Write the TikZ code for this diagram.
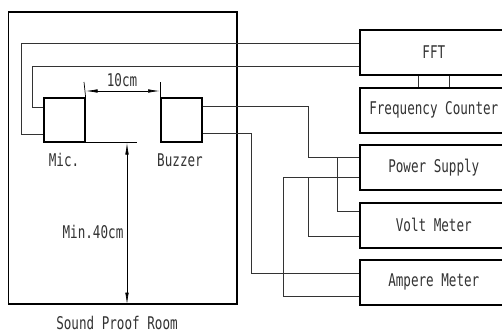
\documentclass[tikz,border=0pt]{standalone}
\usepackage{fontspec}
\newfontfamily\isofont{DejaVu Sans Mono}
\usetikzlibrary{arrows.meta}
\tikzset{
  box/.style={draw=black, line width=1.6pt, rectangle, inner sep=0pt},
  dev/.style={box, minimum width=148pt, minimum height=45pt, anchor=north west},
  wire/.style={draw=black!80, line width=0.7pt},
  dim/.style={draw=black, line width=0.7pt},
  darr/.style={dim, {Latex[length=12pt,width=3.5pt]}-{Latex[length=12pt,width=3.5pt]}},
  lbl/.style={text=black!80, font=\isofont\fontsize{17.5}{17.5}\selectfont, inner sep=0pt},
}
\newcommand{\nar}[1]{\scalebox{0.72}[1]{#1}}
\begin{document}
\begin{tikzpicture}[x=1pt,y=-1pt]
\useasboundingbox (0,0) rectangle (502,334);
\clip (0,0) rectangle (502,334);
\fill[white] (0,0) rectangle (502,334);
% room
\node[box, anchor=north west, minimum width=228.5pt, minimum height=292pt] (room) at (7.5,11) {};
\node[lbl, anchor=base] (roomlbl) at (117,329) {\nar{Sound Proof Room}};
% mic and buzzer
\node[box, anchor=north west, minimum width=41pt, minimum height=44pt] (mic) at (43,97) {};
\node[box, anchor=north west, minimum width=41pt, minimum height=44pt] (buz) at (160,97) {};
\node[lbl] (miclbl) at (64,160) {\nar{Mic.}};
\node[lbl] (buzlbl) at (180,160) {\nar{Buzzer}};
% devices
\node[dev] (fft) at (359,29) {};
\node[dev] (fc) at (359,87) {};
\node[dev] (ps) at (359,144) {};
\node[dev] (vm) at (359,202) {};
\node[dev] (am) at (359,259) {};
\node[lbl] at (fft.center) {\nar{FFT}};
\node[lbl] at (fc.center) {\nar{Frequency Counter}};
\node[lbl] at (ps.center) {\nar{Power Supply}};
\node[lbl] at (vm.center) {\nar{Volt Meter}};
\node[lbl] at (am.center) {\nar{Ampere Meter}};
% dimension 10cm
\coordinate (e1) at (84,82);
\coordinate (e2) at (160,82);
\draw[dim] (mic.north east) -- (e1);
\draw[dim] (buz.north west) -- (e2);
\draw[darr] (mic.north east |- 0,91) -- (buz.north west |- 0,91);
\node[lbl] (d10) at (122,80) {\nar{10cm}};
% dimension Min.40cm
\coordinate (e3) at (137,141);
\draw[dim] (mic.south east) -- (mic.south east -| e3);
\draw[darr] (mic.south east -| 127,0) -- (room.south -| 127,0);
\node[lbl] (d40) at (93,232) {\nar{Min.40cm}};
% wires
\draw[wire] (mic.west |- 0,134) -| (21,43) -- (fft.west |- 0,43);
\draw[wire] (mic.west |- 0,107) -| (32,66) -- (fft.west |- 0,66);
\draw[wire] (fft.south -| 418,0) -- (fc.north -| 418,0);
\draw[wire] (fft.south -| 449,0) -- (fc.north -| 449,0);
\draw[wire] (buz.east |- 0,106) -| (308,157) -- (ps.west |- 0,157);
\draw[wire] (buz.east |- 0,133) -| (251,273) -- (am.west |- 0,273);
\draw[wire] (337,157) |- (vm.west |- 0,211);
\draw[wire] (ps.west |- 0,177) -| (283,296) -- (am.west |- 0,296);
\draw[wire] (308,177) |- (vm.west |- 0,236);
\end{tikzpicture}
\end{document}
